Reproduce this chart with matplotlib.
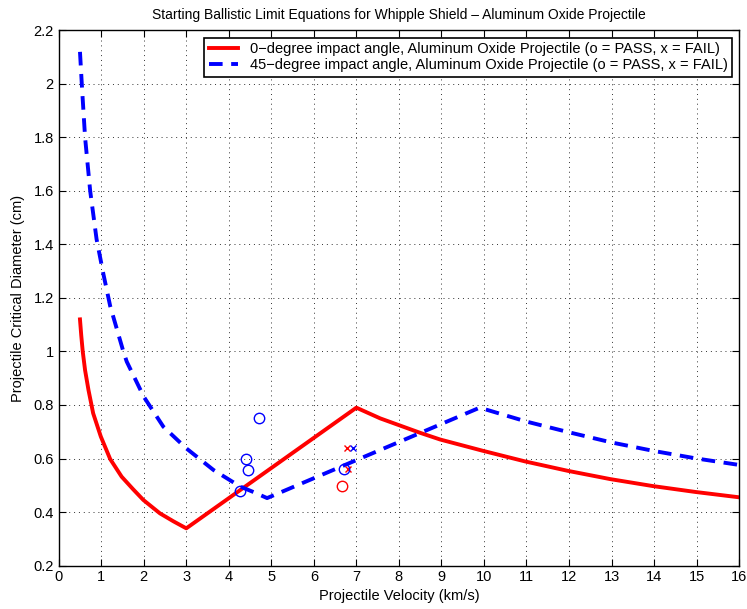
import matplotlib.pyplot as plt
from matplotlib.ticker import FuncFormatter

plt.rcParams['font.family'] = ['Liberation Sans', 'DejaVu Sans']

# 0-degree ballistic limit curve (velocity km/s, critical diameter cm)
v_0deg = [0.5, 0.53, 0.565, 0.62, 0.70, 0.81, 0.99, 1.21, 1.48, 1.75, 1.99, 2.38, 2.7, 3.0,
          7.0, 7.56, 8.5, 8.97, 9.97, 10.97, 11.97, 12.97, 13.97, 14.97, 16.0]
d_0deg = [1.12, 1.06, 1.0, 0.93, 0.856, 0.769, 0.682, 0.598, 0.532, 0.485, 0.445, 0.395, 0.365, 0.339,
          0.79, 0.75, 0.696, 0.671, 0.629, 0.589, 0.554, 0.523, 0.497, 0.475, 0.455]

# 45-degree ballistic limit curve
v_45deg = [0.5, 0.55, 0.62, 0.74, 0.89, 1.05, 1.21, 1.52, 1.6, 2.0, 2.46, 3.0,
           3.64, 4.27, 4.62, 4.9, 9.9, 11.0, 12.0, 13.0, 14.0, 15.0, 16.0]
d_45deg = [2.12, 1.98, 1.80, 1.60, 1.42, 1.29, 1.17, 1.00, 0.962, 0.831, 0.719, 0.638,
           0.557, 0.495, 0.472, 0.452, 0.79, 0.738, 0.698, 0.660, 0.628, 0.600, 0.576]

# test shots
pass_0_v = [6.66]
pass_0_d = [0.498]
fail_0_v = [6.78, 6.80]
fail_0_d = [0.638, 0.560]
pass_45_v = [4.27, 4.41, 4.44, 4.71, 6.70]
pass_45_d = [0.480, 0.597, 0.557, 0.752, 0.560]
fail_45_v = [6.92]
fail_45_d = [0.638]

fig = plt.figure(figsize=(7.47, 6.09), dpi=100)
ax = fig.add_axes([0.0786, 0.0714, 0.9108, 0.8786])

ax.plot(v_0deg, d_0deg, color='red', lw=2.8,
        label='0\u2212degree impact angle, Aluminum Oxide Projectile (o = PASS, x = FAIL)')
ax.plot(v_45deg, d_45deg, color='blue', lw=2.8, dashes=(3.5, 2.2),
        label='45\u2212degree impact angle, Aluminum Oxide Projectile (o = PASS, x = FAIL)')

ax.plot(pass_0_v, pass_0_d, 'o', mfc='none', mec='red', ms=7.5, mew=1)
ax.plot(fail_0_v, fail_0_d, 'x', color='red', ms=5, mew=1)
ax.plot(pass_45_v, pass_45_d, 'o', mfc='none', mec='blue', ms=7.5, mew=1)
ax.plot(fail_45_v, fail_45_d, 'x', color='blue', ms=5, mew=1)

ax.set_xlim(0, 16)
ax.set_ylim(0.2, 2.2)
ax.set_xticks(range(0, 17))
ax.set_yticks([0.2 * i for i in range(1, 12)])
ax.yaxis.set_major_formatter(FuncFormatter(lambda y, p: '%g' % round(y, 1)))
ax.tick_params(direction='in', top=True, right=True, labelsize=10.5, length=5, width=0.8)
ax.grid(True, linestyle=(0, (1, 4)), color='#333333', lw=0.7)
for s in ax.spines.values():
    s.set_linewidth(1)

ax.set_xlabel('Projectile Velocity (km/s)', fontsize=10.5, labelpad=3)
ax.set_ylabel('Projectile Critical Diameter (cm)', fontsize=10.5, labelpad=6)
ax.set_title('Starting Ballistic Limit Equations for Whipple Shield \u2013 Aluminum Oxide Projectile',
             fontsize=10, pad=8)

leg = ax.legend(loc='upper right', fontsize=10.5, fancybox=False, framealpha=1,
                edgecolor='black', borderaxespad=0.5, handlelength=2.0,
                borderpad=0.3, labelspacing=0.15, handletextpad=0.8)
leg.get_frame().set_linewidth(1.2)

fig.savefig('out.png', dpi=100)
